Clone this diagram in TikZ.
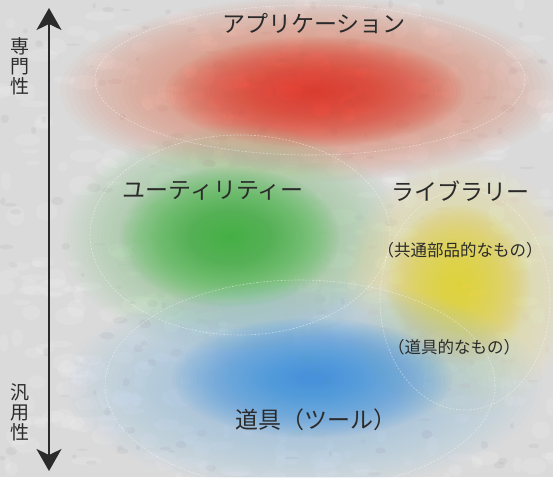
\documentclass[tikz,border=0pt]{standalone}
\usepackage{fontspec}
\newfontfamily\jp{Noto Sans CJK JP}
\usetikzlibrary{arrows.meta}
\definecolor{bg}{HTML}{DADADA}
\definecolor{txt}{HTML}{2B2B2B}
\definecolor{cred}{HTML}{E8352B}
\definecolor{csalmon}{HTML}{EE7F62}
\definecolor{cgreen}{HTML}{3DB03D}
\definecolor{clgreen}{HTML}{8ECC8E}
\definecolor{cyellow}{HTML}{F4D230}
\definecolor{clyellow}{HTML}{F4E099}
\definecolor{cblue}{HTML}{3A92DA}
\definecolor{clblue}{HTML}{9CC4EC}
\newcommand\softblob[6]{% colour, cx, cy, rx, ry, per-step opacity
  \foreach \k in {1,...,40}{%
    \fill[#1, opacity=#6] (#2,#3) ellipse [x radius={#4*\k/40}, y radius={#5*\k/40}];%
  }%
}
\tikzset{
  label/.style={font=\jp\fontsize{23}{26}\selectfont, text=txt, inner sep=0pt},
  sublabel/.style={font=\jp\fontsize{16.5}{20}\selectfont, text=txt, inner sep=0pt},
  vlabel/.style={font=\jp\fontsize{19}{20}\selectfont, text=txt, align=center, inner sep=0pt},
  outline/.style={draw=white, opacity=0.45, line width=0.6pt, dash pattern=on 2pt off 1.5pt},
  axis/.style={line width=2pt, draw=txt, {Stealth[length=22pt,width=25pt,inset=6pt]}-{Stealth[length=22pt,width=25pt,inset=6pt]}}
}
\begin{document}
\begin{tikzpicture}[x=1pt,y=-1pt]
\useasboundingbox (0,0) rectangle (553,477);
% background
\fill[bg] (0,0) rectangle (553,477);
\pgfmathsetseed{7}
\foreach \i in {1,...,420}{
  \pgfmathsetmacro{\px}{rnd*553}
  \pgfmathsetmacro{\py}{rnd*477}
  \pgfmathsetmacro{\rx}{3+rnd*14}
  \pgfmathsetmacro{\ry}{2+rnd*8}
  \fill[white, opacity=0.13] (\px,\py) ellipse [x radius=\rx, y radius=\ry];
}
\foreach \i in {1,...,220}{
  \pgfmathsetmacro{\px}{rnd*553}
  \pgfmathsetmacro{\py}{rnd*477}
  \pgfmathsetmacro{\rx}{1.5+rnd*6}
  \pgfmathsetmacro{\ry}{1+rnd*3.5}
  \fill[gray, opacity=0.09] (\px,\py) ellipse [x radius=\rx, y radius=\ry];
}
% lightening underlays
\softblob{white}{233}{238}{175}{115}{0.02}
\softblob{white}{460}{288}{120}{135}{0.025}
\softblob{white}{303}{385}{245}{110}{0.02}
% colour blobs
\softblob{csalmon}{310}{90}{250}{92}{0.045}
\softblob{cred}{315}{92}{150}{55}{0.04}
\softblob{clgreen}{233}{238}{170}{112}{0.045}
\softblob{cgreen}{230}{237}{110}{70}{0.04}
\softblob{clyellow}{460}{288}{115}{130}{0.045}
\softblob{cyellow}{458}{285}{72}{80}{0.04}
\softblob{clblue}{303}{385}{240}{105}{0.045}
\softblob{cblue}{312}{378}{140}{60}{0.04}
% faint outlines
\draw[outline] (240,235) ellipse [x radius=150, y radius=100];
\draw[outline] (300,385) ellipse [x radius=195, y radius=105];
\draw[outline] (465,300) ellipse [x radius=85, y radius=110];
\draw[outline] (310,80) ellipse [x radius=215, y radius=75];
% axis
\coordinate (top) at (49,8);
\coordinate (bot) at (49,471);
\draw[axis] (bot) -- (top);
% labels
\node[vlabel] (sen) at (20,66) {専\\門\\性};
\node[vlabel] (han) at (20,412) {汎\\用\\性};
\node[label] (app) at (314,24) {アプリケーション};
\node[label] (util) at (213,191) {ユーティリティー};
\node[label] (lib) at (460,191) {ライブラリー};
\node[sublabel] (common) at (460,250) {（共通部品的なもの）};
\node[sublabel] (dogu2) at (454,347) {（道具的なもの）};
\node[label] (tool) at (316,420) {道具（ツール）};
\end{tikzpicture}
\end{document}
